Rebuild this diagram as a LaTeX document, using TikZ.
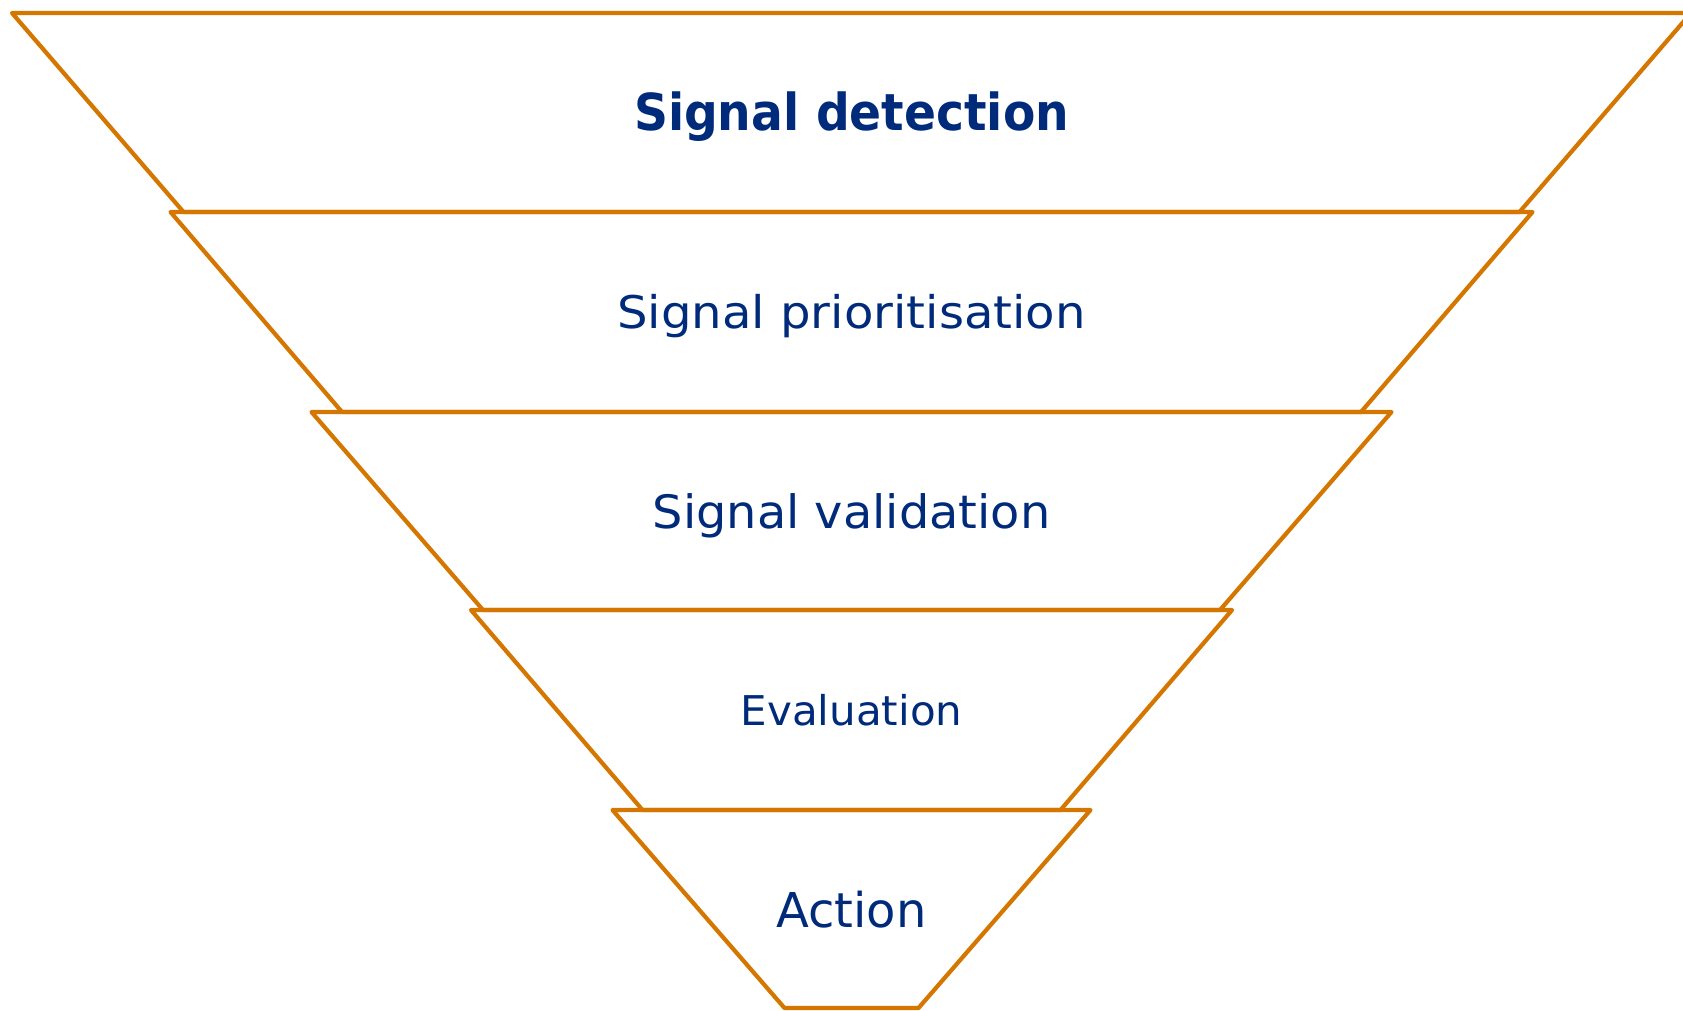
\documentclass[tikz,border=0pt]{standalone}
\usepackage{graphicx}
\usepackage{fontspec}
\setmainfont{DejaVu Sans}
\definecolor{funnelorange}{RGB}{212,118,0}
\definecolor{stagenavy}{RGB}{0,42,122}
\begin{document}
\begin{tikzpicture}[x=1pt,y=-1pt,
  stage/.style={draw=funnelorange, line width=4.2pt, line join=round},
  stagetext/.style={text=stagenavy, inner sep=0pt, anchor=base}]
\useasboundingbox (0,0) rectangle (1683,1010);
\clip (0,0) rectangle (1683,1010);
\def\cx{851.5}
% funnel stages: top y / top half-width / bottom y / bottom half-width
\foreach \ty/\tw/\by/\bw in {13/839.5/212/668, 212/681/412/509.5,
    412/540/610/368.5, 610/380.5/810/209, 810/239/1008/67}
  \draw[stage] (\cx-\tw,\ty) -- (\cx+\tw,\ty) -- (\cx+\bw,\by)
               -- (\cx-\bw,\by) -- cycle;
% stage labels
\node[stagetext, font=\bfseries\fontsize{51}{60}\selectfont] (detect) at (\cx,130)
  {\scalebox{0.925}[1]{Signal detection}};
\node[stagetext, font=\fontsize{45}{54}\selectfont] (prio) at (\cx,328)
  {\scalebox{1.07}[1]{Signal prioritisation}};
\node[stagetext, font=\fontsize{46}{54}\selectfont] (valid) at (\cx,528)
  {\scalebox{1.04}[1]{Signal validation}};
\node[stagetext, font=\fontsize{41}{50}\selectfont] (eval) at (\cx,725)
  {\scalebox{1.025}[1]{Evaluation}};
\node[stagetext, font=\fontsize{48}{56}\selectfont] (action) at (\cx,927) {Action};
\end{tikzpicture}
\end{document}
